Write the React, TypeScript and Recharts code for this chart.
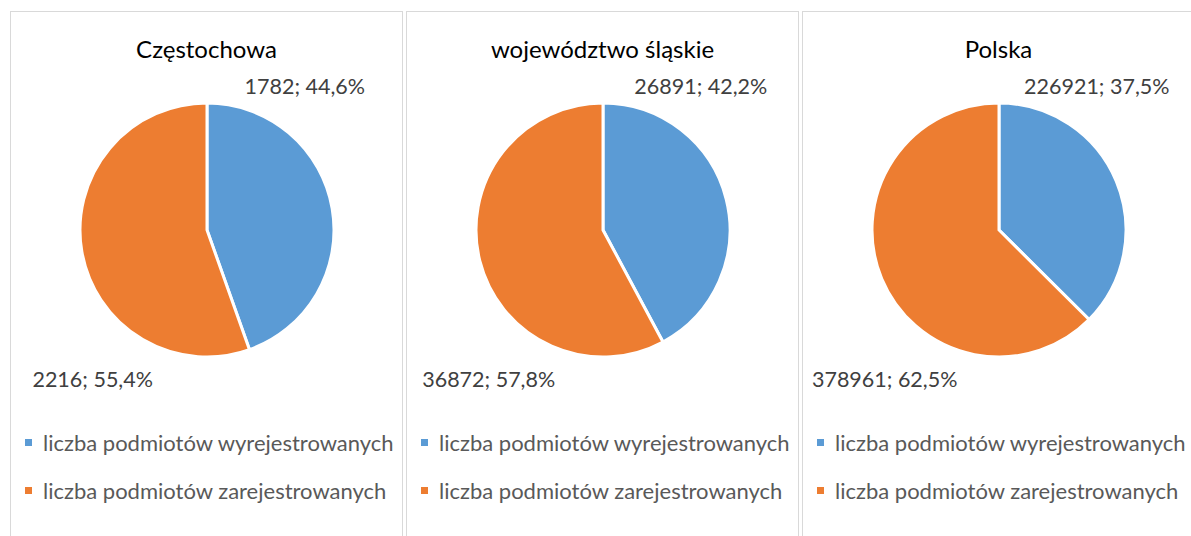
import { PieChart, Pie, Cell, Legend } from 'recharts';

const regions = ['Częstochowa', 'województwo śląskie', 'Polska'];
const seriesNames = ['liczba podmiotów wyrejestrowanych', 'liczba podmiotów zarejestrowanych'];
const wyrejestrowane = [1782, 26891, 226921];
const zarejestrowane = [2216, 36872, 378961];

const COLORS = ['#5B9BD5', '#ED7D31'];
const FONT = 'Lato, "Open Sans", sans-serif';

const PANEL_W = 393;
const PANEL_STEP = 396;
const PANEL_H = 540;

function renderLabel(props: any) {
    const { cx, cy, outerRadius, index, value, percent } = props;
    const pct = (percent * 100).toFixed(1).replace('.', ',');
    // Excel "best fit" style: first slice label above right, second below left
    const x = index === 0 ? cx + outerRadius * 0.77 : cx - outerRadius * 0.9;
    const y = index === 0 ? cy - outerRadius - 17 : cy + outerRadius + 22;
    return (
        <text x={x} y={y} textAnchor="middle" dominantBaseline="central" fill="#404040" fontSize={21.5} fontFamily={FONT}>
            {`${value}; ${pct}%`}
        </text>
    );
}

function LegendContent() {
    return (
        <div style={{ fontFamily: FONT, fontSize: 22, color: '#595959' }}>
            {seriesNames.map((name, i) => (
                <div key={name} style={{ display: 'flex', alignItems: 'center', height: 48 }}>
                    <span style={{ display: 'inline-block', width: 7, height: 7, background: COLORS[i], marginRight: 11 }} />
                    <span style={{ whiteSpace: 'nowrap' }}>{name}</span>
                </div>
            ))}
        </div>
    );
}

function RegionPie({ index }: { index: number }) {
    const data = [
        { name: seriesNames[0], value: wyrejestrowane[index] },
        { name: seriesNames[1], value: zarejestrowane[index] },
    ];
    return (
        <div
            style={{
                position: 'absolute',
                left: 10 + PANEL_STEP * index,
                top: 11,
                width: PANEL_W - 2,
                height: PANEL_H,
                border: '1px solid #D9D9D9',
                background: '#fff',
            }}
        >
            <div
                style={{
                    position: 'absolute',
                    top: 22,
                    left: 0,
                    width: '100%',
                    textAlign: 'center',
                    fontFamily: FONT,
                    fontSize: 24,
                    color: '#000',
                    lineHeight: '30px',
                }}
            >
                {regions[index]}
            </div>
            <PieChart width={PANEL_W - 2} height={PANEL_H - 2} margin={{ top: 0, right: 0, bottom: 0, left: 0 }}>
                <Pie
                    data={data}
                    dataKey="value"
                    cx={196}
                    cy={218}
                    outerRadius={127}
                    startAngle={90}
                    endAngle={-270}
                    stroke="#fff"
                    strokeWidth={3}
                    label={renderLabel}
                    labelLine={false}
                    isAnimationActive={false}
                >
                    {data.map((_entry, i) => (
                        <Cell key={`cell-${i}`} fill={COLORS[i]} />
                    ))}
                </Pie>
                <Legend content={<LegendContent />} wrapperStyle={{ left: 14, top: 406, width: 'auto', bottom: 'auto' }} />
            </PieChart>
        </div>
    );
}

export default function App() {
    return (
        <div style={{ position: 'absolute', left: 0, top: 0, width: 1191, height: 536, overflow: 'hidden', background: '#fff' }}>
            {regions.map((_r, i) => (
                <RegionPie key={i} index={i} />
            ))}
        </div>
    );
}
